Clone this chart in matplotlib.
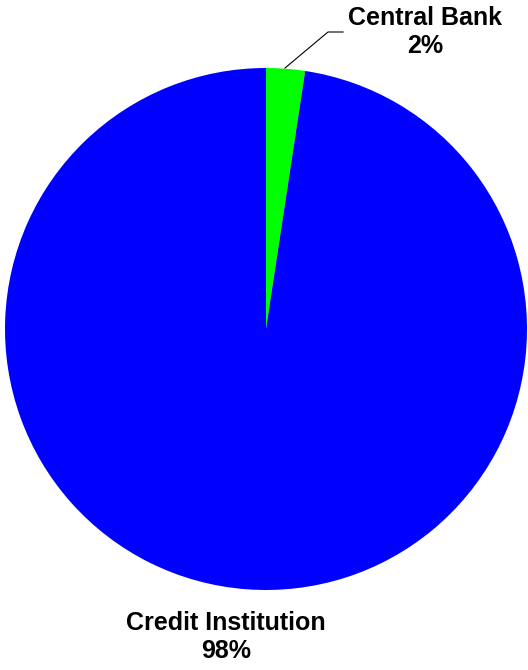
import matplotlib.pyplot as plt

# data
labels = ["Central Bank", "Credit Institution"]
values = [2.4, 97.6]
colors = ["#00ff00", "#0000ff"]

plt.rcParams['font.family'] = ['Liberation Sans', 'DejaVu Sans']

fig = plt.figure(figsize=(5.28, 6.70), dpi=100)
ax = fig.add_axes([0, 0, 1, 1])

# pie in pixel coordinates (y flipped)
ax.pie(values, colors=colors, startangle=90, counterclock=False,
       center=(266, 670 - 329), radius=261, frame=True,
       wedgeprops=dict(linewidth=0))
ax.set_xlim(0, 528)
ax.set_ylim(0, 670)
ax.set_aspect('equal')
ax.axis('off')

total = sum(values)
pcts = [f"{v / total * 100:.0f}%" for v in values]

# Central Bank label with leader line
ax.text(425, 670 - 32, f"{labels[0]}\n{pcts[0]}", ha='center', va='center',
        fontsize=18, fontweight='bold', linespacing=1.25)
ax.plot([285, 328, 343], [670 - 68, 670 - 32, 670 - 32], color='black', lw=0.8)

# Credit Institution label
ax.text(226, 670 - 637, f"{labels[1]}\n{pcts[1]}", ha='center', va='center',
        fontsize=18, fontweight='bold', linespacing=1.25)

fig.savefig("out.png", dpi=100)
